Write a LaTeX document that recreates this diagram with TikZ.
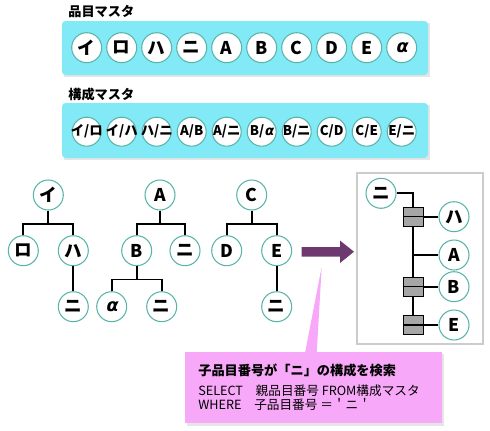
\documentclass[tikz,border=0pt]{standalone}
\usepackage{fontspec}
\setmainfont{Noto Sans CJK JP}
\newfontfamily\grk{DejaVu Sans}[FakeSlant=0.2]
\definecolor{mcyan}{RGB}{130,234,246}
\definecolor{ring}{RGB}{88,180,170}
\definecolor{mpink}{RGB}{248,168,248}
\definecolor{mpurple}{RGB}{110,56,112}
\tikzset{
  item/.style={circle, draw=ring, fill=white, line width=0.6pt, minimum size=0.6cm, inner sep=0pt, font=\fontsize{10}{10}\bfseries},
  pair/.style={circle, draw=ring, fill=white, line width=0.6pt, minimum size=0.58cm, inner sep=0pt},
  link/.style={line width=1.1pt},
  bom/.style={rectangle, draw=black, fill=gray!70, line width=0.6pt, minimum width=0.4cm, minimum height=0.38cm, inner sep=0pt},
  title/.style={anchor=west, inner sep=0pt, font=\fontsize{7.5}{8}\bfseries},
  sql/.style={anchor=west, inner sep=0pt, font=\fontsize{7.2}{7.5}\selectfont}
}
\begin{document}
\begin{tikzpicture}[x=0.02cm, y=-0.02cm]
  \useasboundingbox (0,0) rectangle (490,430);
  % masters
  \node[title] (lblH) at (68,12) {品目マスタ};
  \fill[gray!20] (64,23) rectangle (430,77);
  \fill[mcyan, rounded corners=2pt] (62,21) rectangle (428,75);
  \foreach \t [count=\i] in {イ,ロ,ハ,ニ,A,B,C,D,E,{\grk α}}
    \node[item] (h\i) at (51.7+35*\i,47.7) {\t};
  \node[title] (lblK) at (68,94) {構成マスタ};
  \fill[gray!20] (64,105) rectangle (430,160);
  \fill[mcyan, rounded corners=2pt] (62,103) rectangle (428,158);
  \foreach \t [count=\i] in {イ/ロ,イ/ハ,ハ/ニ,A/B,A/ニ,B/{\grk α},B/ニ,C/D,C/E,E/ニ}
    \node[pair, label={[inner sep=0pt, font=\fontsize{7.6}{7.6}\bfseries]center:\t}] (k\i) at (51.7+35*\i,131.7) {};
  % trees
  \node[item] (tI) at (48.3,195) {イ};
  \node[item] (tRo) at (23.3,250.7) {ロ};
  \node[item] (tHa) at (73.3,250.7) {ハ};
  \node[item] (tNi1) at (73.3,306.7) {ニ};
  \draw[link] (tI.south) -- ++(0,13.3) coordinate (jI);
  \draw[link] (tRo.north) |- (jI) -| (tHa.north);
  \draw[link] (tHa) -- (tNi1);
  \node[item] (tA) at (160,195) {A};
  \node[item] (tB) at (136.7,250.7) {B};
  \node[item] (tNi2) at (185,250.7) {ニ};
  \node[item] (tAl) at (111.7,306.7) {\grk α};
  \node[item] (tNi3) at (161.7,306.7) {ニ};
  \draw[link] (tA.south) -- ++(0,13.3) coordinate (jA);
  \draw[link] (tB.north) |- (jA) -| (tNi2.north);
  \draw[link] (tB.south) -- ++(0,13.3) coordinate (jB);
  \draw[link] (tAl.north) |- (jB) -| (tNi3.north);
  \node[item] (tC) at (251.7,195) {C};
  \node[item] (tD) at (226.7,250.7) {D};
  \node[item] (tE) at (276.7,250.7) {E};
  \node[item] (tNi4) at (276.7,306.7) {ニ};
  \draw[link] (tC.south) -- ++(0,13.3) coordinate (jC);
  \draw[link] (tD.north) |- (jC) -| (tE.north);
  \draw[link] (tE) -- (tNi4);
  % arrow
  \fill[mpurple] (301.7,247) -- (340,247) -- (340,240.5) -- (354,251.7)
    -- (340,263) -- (340,256.5) -- (301.7,256.5) -- cycle;
  % where-used
  \draw[gray!40, fill=white, line width=0.9pt] (357,173) rectangle (483,344);
  \node[item] (rNi) at (381,193.3) {ニ};
  \node[bom] (r1) at (413.3,216.7) {};
  \node[bom] (r2) at (413.3,286.7) {};
  \node[bom] (r3) at (413.3,325) {};
  \coordinate (rJ) at (413.3,255);
  \node[item] (rHa) at (454,216.7) {ハ};
  \node[item] (rA) at (454,255) {A};
  \node[item] (rB) at (454,286.7) {B};
  \node[item] (rE) at (454,325) {E};
  \draw[link] (rNi.east) -| (r1.north);
  \draw[link] (r1.south) -- (r2.north);
  \draw[link] (r2.south) -- (r3.north);
  \foreach \r/\c in {r1/rHa,r2/rB,r3/rE}
    \draw[link] (\r.east) -- (\c.west);
  \draw[link] (rJ) -- (rA.west);
  \foreach \r in {r1,r2,r3}
    \draw[line width=0.6pt] (\r.west) -- (\r.east);
  % query
  \fill[mpink] (305,353) -- (321.7,266.7) -- (316.7,353) -- cycle;
  \fill[gray!20] (187,354) rectangle (444,426);
  \fill[mpink] (185,351.7) rectangle (441.7,423.3);
  \node[sql, font=\fontsize{7.5}{8}\bfseries] (q1) at (198,370) {子品目番号が「ニ」の構成を検索};
  \node[sql] (q2) at (198,391) {SELECT　親品目番号 FROM構成マスタ};
  \node[sql] (q3) at (198,404) {WHERE　子品目番号 ＝＇ニ＇};
\end{tikzpicture}
\end{document}
